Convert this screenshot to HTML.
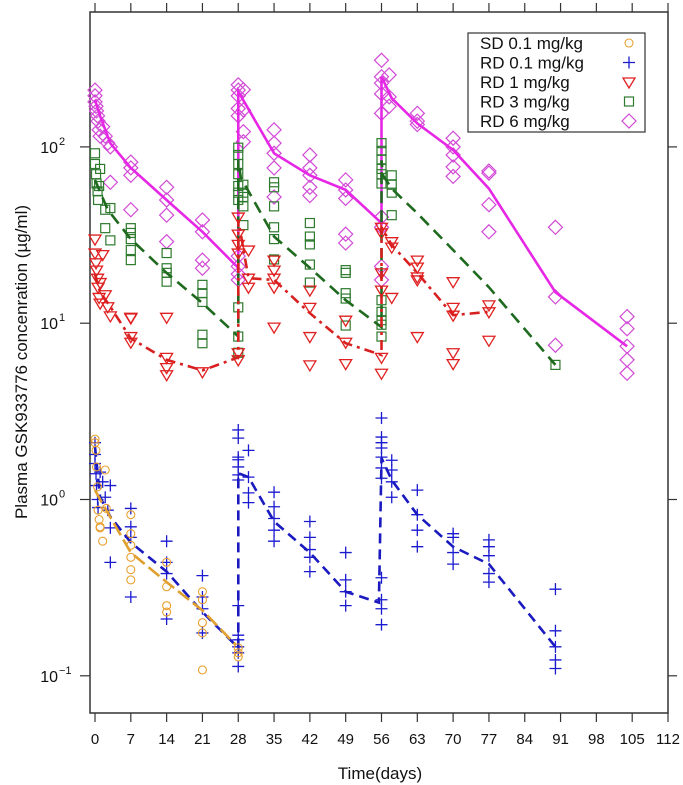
<!DOCTYPE html>
<html><head><meta charset="utf-8"><style>
html,body{margin:0;padding:0;background:#fff;}
svg{display:block;font-family:"Liberation Sans",sans-serif;}
</style></head><body>
<svg id="chart" width="683" height="785" viewBox="0 0 683 785">
<g id="axes"></g>
<g id="series"></g>
<g id="legend"></g>
</svg>
<script>
// ---- data ----
const xTicks = [0,7,14,21,28,35,42,49,56,63,70,77,84,91,98,105,112];
const yTickExps = [-1,0,1,2];

const sdLineDays = [0,1,7,14,21,27.5];
const sdLineVals = [1.13,1.0,0.5,0.34,0.235,0.15];
const sdDays = [0,0,0.2,0.3,0.5,0.6,0.8,1,1,1.5,2,2.2,7,7,7,7,7,7,14,14,14,14,21,21,21,21,21,28,28,28];
const sdVals = [2.2,2.1,1.9,1.53,1.18,0.87,0.77,0.7,0.69,0.58,1.47,0.89,0.82,0.64,0.55,0.47,0.4,0.35,0.44,0.32,0.25,0.23,0.3,0.27,0.2,0.175,0.108,0.144,0.135,0.128];

const rd01LineDays = [0,1,3,7,14,21,28,28,30,35,42,49,55.5,56,58,63,70,77,90];
const rd01LineVals = [1.99,1.03,0.8,0.57,0.39,0.23,0.144,1.41,1.34,0.75,0.5,0.3,0.26,1.72,1.29,0.82,0.54,0.43,0.146];
const rd01Days = [0,0,0,0.2,0.3,0.5,0.6,1,1.5,2,2.5,3,3,3,7,7,7,7,14,14,14,14,21,21,21,21,28,28,28,28,28,28,28,28,28,28,28,28,28,30,30,30,30,35,35,35,35,35,42,42,42,42,42,49,49,49,49,56,56,56,56,56,56,56,56,56,56,56,58,58,58,58,63,63,63,63,70,70,70,70,77,77,77,77,77,90,90,90,90,90];
const rd01Vals = [2.1,1.8,1.6,1.4,1.2,1.0,0.9,1.43,1.26,1.03,0.87,0.69,0.44,1.2,0.89,0.7,0.61,0.28,0.58,0.44,0.38,0.21,0.37,0.28,0.24,0.175,0.17,0.16,0.146,0.135,0.113,2.48,2.23,1.74,1.68,1.53,1.38,1.29,0.25,1.9,1.34,1.09,0.96,1.1,0.91,0.78,0.67,0.58,0.75,0.61,0.52,0.47,0.39,0.5,0.35,0.3,0.25,2.9,2.26,2.1,1.96,1.74,1.51,1.32,0.36,0.27,0.24,0.195,1.67,1.47,1.26,1.03,1.13,0.82,0.67,0.54,0.64,0.61,0.5,0.43,0.59,0.54,0.48,0.38,0.34,0.31,0.18,0.146,0.123,0.11];

const rd1LineDays = [0,1,3,7,14,21,28,28,30,35,42,49,56,56,58,63,70,77];
const rd1LineVals = [19,15,12.4,8.2,6.2,5.4,6.4,38.5,18,17.6,11.4,7.7,6.6,35,27.8,19.3,11.1,11.6];
const rd1Days = [0,0,0.2,0.3,0.5,0.6,0.8,1,1,1.5,2,2.5,3,7,7,7,7,14,14,14,14,21,28,28,28,28,28,28,30,30,30,35,35,35,35,35,42,42,42,42,49,49,49,56,56,56,56,56,56,58,58,58,63,63,63,63,63,70,70,70,70,70,77,77,77];
const rd1Vals = [30,25,22,20,18,16,14,13,17,24.5,14.5,12.4,11,10.8,10.7,8.4,7.8,10.8,6.4,5.6,5.1,5.3,6.8,6.2,40,32,28,25,26,18,16,22.8,20,18,16,9.5,15.4,12.3,8.4,5.8,10.4,7.8,5.9,35,32.5,19.3,15.4,6.4,5.2,29,27,14,22.8,20.8,18.3,17.6,8.4,17.2,12.3,11.1,6.8,5.9,12.7,11.6,8.0];

const rd3LineDays = [0,2.5,7,14,21,28,28,28.5,35,42,49,56,56,56.3,58,63,70,77,90];
const rd3LineVals = [65,44,30,19.3,13,8.4,84,67,31,20.6,13.5,9.5,84,69,58,42,26,16,5.8];
const rd3Days = [0,0,0.2,0.3,0.5,0.6,0.8,1,2,3,2,3,7,7,7,7,7,14,14,14,14,21,21,21,21,21,28,28,28,28,28,28,28,28,28,28,29,29,29,29,29,35,35,35,35,35,35,42,42,42,42,42,49,49,49,49,49,56,56,56,56,56,56,56,56,56,56,56,58,58,58,58,90];
const rd3Vals = [92,80,70,62,56,50,60,75,44,45,34.6,29.5,34.6,32.5,30,26,22.8,25,20.5,19.3,17.2,16.5,14.8,13.2,8.6,7.7,12.3,8.4,6.8,99,90,80,70,60,55,50,61,55,52,46,36,63,59,46,35,30,23,37,31,28,21.5,17,20,19.3,14.8,13.8,9.7,10.4,8.4,13.5,11.6,9.8,105,95,85,75,70,62,69,61,55,41,5.8];

const rd6LineDays = [0,1,3,7,14,21,28,28,35,42,49,56,56,58,63,70,77,90,104];
const rd6LineVals = [185,150,105,76,50,33,20.6,206,92,69,57,37,250,189,136,96,58,15,7.4];
const rd6Days = [0,0,0,0.2,0.3,0.5,0.6,0.8,1,1.5,2,2.5,3,3,7,7,7,7,14,14,14,14,21,21,21,21,28,28,28,28,28,28,28,28,28,29,29,29,29,35,35,35,35,35,42,42,42,42,42,49,49,49,49,49,56,56,56,56,56,56,56,56,56,57.5,57.5,57.5,63,63,63,70,70,70,70,70,77,77,77,77,90,90,90,104,104,104,104,104];
const rd6Vals = [210,195,180,170,160,150,140,125,115,130,115,105,100,63,82,76,69,44,59,50,41,29,38.5,33,22.8,20.5,24,21,19,17.6,225,210,195,165,150,211,162,122,107,125,105,92,76,52,90,76,69,59,53,65,57,51,32,28.5,40,35,21,17.6,310,250,230,200,155,256,192,170,155,140,134,112,100,90,77,68,73,71,47,33,35,14.1,7.5,10.9,9.3,7.4,6.2,5.2];

// ---- scales ----
const X0 = 95, XPX = (668-95)/112;
const Y0 = 499.5, YDEC = 176.3;
function xs(d){return X0 + d*XPX;}
function ys(v){return Y0 - Math.log10(v)*YDEC;}

const NS = "http://www.w3.org/2000/svg";
function mk(tag, attrs, parent){
  const e = document.createElementNS(NS, tag);
  for (const k in attrs) e.setAttribute(k, attrs[k]);
  parent.appendChild(e);
  return e;
}
const axes = document.getElementById('axes');
const series = document.getElementById('series');
const legend = document.getElementById('legend');

// frame
const frame = mk('rect',{x:90,y:12,width:578,height:701,fill:'none',stroke:'#333','stroke-width':1.5},axes);



xTicks.forEach(t=>{
  const x = xs(t);
  const tb = mk('line',{x1:x,y1:713,x2:x,y2:722,stroke:'#333','stroke-width':1.2},axes);
  
  
  const tt = mk('line',{x1:x,y1:3,x2:x,y2:12,stroke:'#333','stroke-width':1.2},axes);
  
  
  const lb = mk('text',{x:x,y:744,'font-size':15,'text-anchor':'middle',fill:'#111'},axes);
  lb.textContent = t;
  
  
});
yTickExps.forEach(e=>{
  const y = ys(Math.pow(10,e));
  const tl = mk('line',{x1:80,y1:y,x2:90,y2:y,stroke:'#333','stroke-width':1.2},axes);
  
  
  const tr = mk('line',{x1:668,y1:y,x2:677,y2:y,stroke:'#333','stroke-width':1.2},axes);
  
  
  const lb = mk('text',{x:58,y:y+6,'font-size':16,'text-anchor':'end',fill:'#111'},axes);
  lb.textContent = '10';
  
  
  const sp = mk('text',{x:59,y:y-2,'font-size':11,'text-anchor':'start',fill:'#111'},axes);
  sp.textContent = e < 0 ? '\u2212' + Math.abs(e) : String(e);
  
  
});
const xt = mk('text',{x:380,y:779,'font-size':17,'text-anchor':'middle',fill:'#111'},axes);
xt.textContent = 'Time(days)';


const yt = mk('text',{x:0,y:0,'font-size':17,'text-anchor':'middle',fill:'#111',transform:'translate(27,362) rotate(-90)'},axes);
yt.textContent = 'Plasma GSK933776 concenration (\u00b5g/ml)';



// markers
function marker(kind, cx, cy, color, parent){
  let el;
  if (kind==='circle') el = mk('circle',{cx:cx,cy:cy,r:4,fill:'none',stroke:color,'stroke-width':1.1},parent);
  else if (kind==='plus') el = mk('path',{d:`M${cx-6},${cy}H${cx+6}M${cx},${cy-6}V${cy+6}`,fill:'none',stroke:color,'stroke-width':1.3},parent);
  else if (kind==='tri') el = mk('path',{d:`M${cx-6},${cy-4}L${cx+6},${cy-4}L${cx},${cy+6}Z`,fill:'none',stroke:color,'stroke-width':1.3},parent);
  else if (kind==='square') el = mk('rect',{x:cx-4.5,y:cy-4.5,width:9,height:9,fill:'none',stroke:color,'stroke-width':1.2},parent);
  else el = mk('path',{d:`M${cx},${cy-7}L${cx+7},${cy}L${cx},${cy+7}L${cx-7},${cy}Z`,fill:'none',stroke:color,'stroke-width':1.2},parent);
  return el;
}
function drawSeries(name, days, vals, lDays, lVals, kind, pcol, lcol, dash){
  const g = mk('g',{},series);
  
  
  days.forEach((d,i)=>{
    const m = marker(kind, xs(d), ys(vals[i]), pcol, g);
    
    
  });
  const pts = lDays.map((d,i)=>xs(d).toFixed(1)+','+ys(lVals[i]).toFixed(1)).join(' ');
  const pl = mk('polyline',{points:pts,fill:'none',stroke:lcol,'stroke-width':2.6,'stroke-dasharray':dash},g);
  
  
}
drawSeries('rd6-series', rd6Days, rd6Vals, rd6LineDays, rd6LineVals, 'diamond', '#d24ad6', '#e628e6', 'none');
drawSeries('rd3-series', rd3Days, rd3Vals, rd3LineDays, rd3LineVals, 'square', '#2e7a2e', '#1f6a1f', '12,7');
drawSeries('rd1-series', rd1Days, rd1Vals, rd1LineDays, rd1LineVals, 'tri', '#e02020', '#d82020', '10,5,3,5');
drawSeries('rd01-series', rd01Days, rd01Vals, rd01LineDays, rd01LineVals, 'plus', '#1a1ad0', '#1a1ac0', '10,6');
drawSeries('sd01-series', sdDays, sdVals, sdLineDays, sdLineVals, 'circle', '#e8a030', '#e0a030', '14,5');

// legend
const lb = mk('rect',{x:468,y:33,width:177,height:99,fill:'#fff',stroke:'#333','stroke-width':1.2},legend);


const legNames = ['SD 0.1 mg/kg','RD 0.1 mg/kg','RD 1 mg/kg','RD 3 mg/kg','RD 6 mg/kg'];
const legKinds = ['circle','plus','tri','square','diamond'];
const legCols = ['#e8a030','#1a1ad0','#e02020','#2e7a2e','#d24ad6'];
legNames.forEach((n,i)=>{
  const cy = 43 + i*19.5;
  const t = mk('text',{x:480,y:cy+6,'font-size':17,fill:'#111'},legend);
  t.textContent = n;
  
  
  const m = marker(legKinds[i], 629, cy, legCols[i], legend);
  
  
});
</script>
</body></html>
